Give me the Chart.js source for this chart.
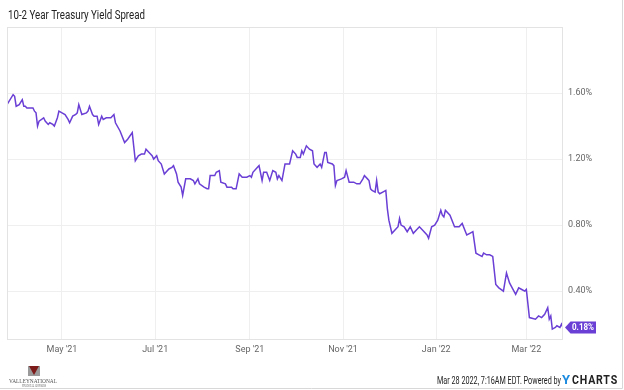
<!DOCTYPE html>
<html>
<head>
<meta charset="utf-8">
<script src="https://cdn.jsdelivr.net/npm/chart.js@4.4.1/dist/chart.umd.min.js"></script>
<style>
  html, body { margin: 0; padding: 0; background: #fff; }
  canvas { display: block; }
</style>
</head>
<body>
<canvas id="chart" width="624" height="390"></canvas>
<script>
// days counted from Mar 26 2021
const days = [0, 4, 5, 6, 8, 10, 11, 12, 13, 15, 17, 18, 19, 20, 21, 24, 25, 27, 28, 30,
  31, 33, 34, 36, 38, 40, 41, 43, 45, 46, 47, 49, 52, 53, 54, 56, 57, 59, 60, 62,
  63, 65, 68, 70, 71, 74, 77, 79, 82, 84, 86, 88, 90, 91, 93, 95, 96, 98, 99, 101,
  103, 106, 108, 109, 111, 112, 114, 115, 117, 120, 122, 123, 125, 126, 129, 131, 132, 133, 136, 137,
  139, 140, 143, 144, 146, 147, 148, 150, 152, 154, 157, 159, 160, 161, 164, 165, 167, 168, 170, 172,
  174, 176, 177, 178, 180, 182, 184, 185, 187, 189, 190, 192, 193, 194, 196, 198, 200, 201, 203, 205,
  206, 208, 209, 210, 213, 214, 215, 216, 219, 221, 222, 224, 227, 229, 231, 233, 234, 236, 237, 238,
  239, 241, 242, 243, 244, 246, 248, 249, 250, 252, 254, 256, 257, 258, 260, 262, 264, 266, 268, 270,
  272, 275, 276, 278, 280, 282, 284, 285, 286, 287, 290, 293, 296, 298, 301, 303, 305, 307, 309, 311,
  312, 314, 316, 318, 320, 322, 325, 327, 329, 333, 335, 337, 339, 340, 342, 346, 348, 350, 352, 354,
  355, 356, 357, 359, 360, 362, 363, 364];
const spread = [1.53, 1.59, 1.58, 1.52, 1.53, 1.56, 1.52, 1.52, 1.51, 1.51, 1.51, 1.49, 1.48, 1.40, 1.43, 1.45, 1.43, 1.41, 1.42, 1.41,
  1.40, 1.45, 1.49, 1.48, 1.47, 1.44, 1.42, 1.46, 1.47, 1.48, 1.53, 1.47, 1.48, 1.49, 1.52, 1.47, 1.46, 1.46, 1.41, 1.46,
  1.44, 1.45, 1.45, 1.47, 1.42, 1.37, 1.30, 1.32, 1.36, 1.19, 1.22, 1.23, 1.23, 1.26, 1.24, 1.22, 1.20, 1.22, 1.19, 1.17,
  1.11, 1.14, 1.15, 1.16, 1.11, 1.06, 1.03, 0.98, 1.08, 1.08, 1.07, 1.05, 1.08, 1.05, 1.03, 1.02, 1.02, 1.10, 1.10, 1.12,
  1.13, 1.06, 1.05, 1.03, 1.03, 1.03, 1.02, 1.02, 1.11, 1.09, 1.09, 1.10, 1.09, 1.12, 1.15, 1.16, 1.07, 1.12, 1.12, 1.07,
  1.13, 1.12, 1.08, 1.10, 1.07, 1.17, 1.17, 1.17, 1.25, 1.23, 1.21, 1.21, 1.25, 1.23, 1.28, 1.26, 1.25, 1.17, 1.15, 1.17,
  1.15, 1.24, 1.24, 1.18, 1.17, 1.16, 1.04, 1.07, 1.08, 1.09, 1.13, 1.06, 1.06, 1.05, 1.05, 1.08, 1.10, 1.08, 1.07, 1.02,
  1.01, 1.00, 1.07, 1.00, 0.99, 1.00, 1.01, 0.90, 0.83, 0.75, 0.77, 0.79, 0.84, 0.80, 0.79, 0.76, 0.79, 0.75, 0.77, 0.79,
  0.77, 0.74, 0.72, 0.79, 0.80, 0.83, 0.89, 0.86, 0.85, 0.89, 0.86, 0.79, 0.79, 0.81, 0.74, 0.75, 0.76, 0.63, 0.62, 0.61,
  0.63, 0.62, 0.62, 0.61, 0.44, 0.42, 0.40, 0.51, 0.45, 0.38, 0.42, 0.41, 0.40, 0.41, 0.24, 0.23, 0.25, 0.24, 0.26, 0.30,
  0.23, 0.25, 0.17, 0.18, 0.19, 0.18, 0.20, 0.18];

const monthTicks = [36, 97, 159, 220, 281, 340];
const monthLabels = ["May '21", "Jul '21", "Sep '21", "Nov '21", "Jan '22", "Mar '22"];
const yTicks = [0.4, 0.8, 1.2, 1.6];

const purple = "#6a3fd5";

const decor = {
  id: "decor",
  afterDraw(chart) {
    const { ctx, chartArea: a, scales } = chart;
    ctx.save();
    // plot frame
    ctx.strokeStyle = "#e3e3e3";
    ctx.lineWidth = 1;
    ctx.strokeRect(a.left + 0.5, a.top + 0.5, a.right - a.left - 1, a.bottom - a.top);
    // outer frame (right/bottom)
    ctx.strokeStyle = "#d8d8d8";
    ctx.beginPath();
    ctx.moveTo(622.5, 0); ctx.lineTo(622.5, 388.5); ctx.lineTo(0, 388.5);
    ctx.stroke();

    // title
    ctx.fillStyle = "#222";
    ctx.font = "12.5px Roboto";
    ctx.textBaseline = "middle";
    ctx.textAlign = "left";
    ctx.fillText("10-2 Year Treasury Yield Spread", 8, 16, 137);

    // last value badge
    const last = spread[spread.length - 1];
    const yy = Math.round(scales.y.getPixelForValue(last)) + 0.5;
    const x0 = a.right + 2;
    ctx.fillStyle = purple;
    ctx.beginPath();
    ctx.moveTo(x0, yy);
    ctx.lineTo(x0 + 5.5, yy - 6);
    ctx.lineTo(x0 + 31, yy - 6);
    ctx.lineTo(x0 + 31, yy + 6);
    ctx.lineTo(x0 + 5.5, yy + 6);
    ctx.closePath();
    ctx.fill();
    ctx.fillStyle = "#fff";
    ctx.font = "bold 9px Roboto";
    ctx.fillText(last.toFixed(2) + "%", x0 + 7, yy + 0.5, 22);

    // footer right
    ctx.fillStyle = "#222";
    ctx.font = "11px Roboto";
    ctx.textBaseline = "alphabetic";
    ctx.fillText("Mar 28 2022, 7:16AM EDT. Powered by", 437, 384, 124);
    ctx.font = "bold 13px Roboto";
    ctx.fillStyle = "#1b8be0";
    ctx.fillText("Y", 562, 384);
    ctx.fillStyle = "#222";
    ctx.letterSpacing = "1px";
    ctx.fillText("CHARTS", 572, 384, 46);
    ctx.letterSpacing = "0px";

    // footer left logo
    ctx.fillStyle = "#9a9a9a";
    ctx.fillRect(28, 366, 12, 10);
    ctx.fillStyle = "#7d1a1a";
    ctx.beginPath();
    ctx.moveTo(29, 366); ctx.lineTo(39, 366); ctx.lineTo(34, 375);
    ctx.closePath();
    ctx.fill();
    ctx.fillStyle = "#555";
    ctx.font = "7px 'Liberation Serif'";
    ctx.fillText("VALLEYNATIONAL", 9, 383, 48);
    ctx.font = "3px 'Liberation Serif'";
    ctx.fillText("FINANCIAL ADVISORS", 22, 387, 24);
    ctx.restore();
  }
};

new Chart(document.getElementById("chart"), {
  type: "line",
  data: {
    datasets: [{
      data: days.map((d, i) => ({ x: d, y: spread[i] })),
      borderColor: purple,
      borderWidth: 1.5,
      pointRadius: 0,
      tension: 0,
      fill: false
    }]
  },
  options: {
    responsive: false,
    animation: false,
    devicePixelRatio: 1,
    layout: { padding: { left: 7, top: 27, right: 0, bottom: 0 } },
    plugins: { legend: { display: false }, tooltip: { enabled: false } },
    scales: {
      x: {
        type: "linear",
        min: 0,
        max: 364,
        afterBuildTicks: (s) => { s.ticks = monthTicks.map((v) => ({ value: v })); },
        afterFit: (s) => { s.height = 51; },
        grid: { color: "#efefef", drawTicks: false },
        border: { display: false },
        ticks: {
          padding: 5,
          color: "#666",
          font: { family: "Roboto", size: 9 },
          maxRotation: 0,
          autoSkip: false,
          callback: (v) => monthLabels[monthTicks.indexOf(v)]
        }
      },
      y: {
        position: "right",
        min: 0.11,
        max: 2.0,
        afterBuildTicks: (s) => { s.ticks = yTicks.map((v) => ({ value: v })); },
        afterFit: (s) => { s.width = 61; },
        grid: { color: "#efefef", drawTicks: false },
        border: { display: false },
        ticks: {
          padding: 5,
          color: "#666",
          font: { family: "Roboto", size: 9 },
          callback: (v) => v.toFixed(2) + "%"
        }
      }
    }
  },
  plugins: [decor]
});
</script>
</body>
</html>
